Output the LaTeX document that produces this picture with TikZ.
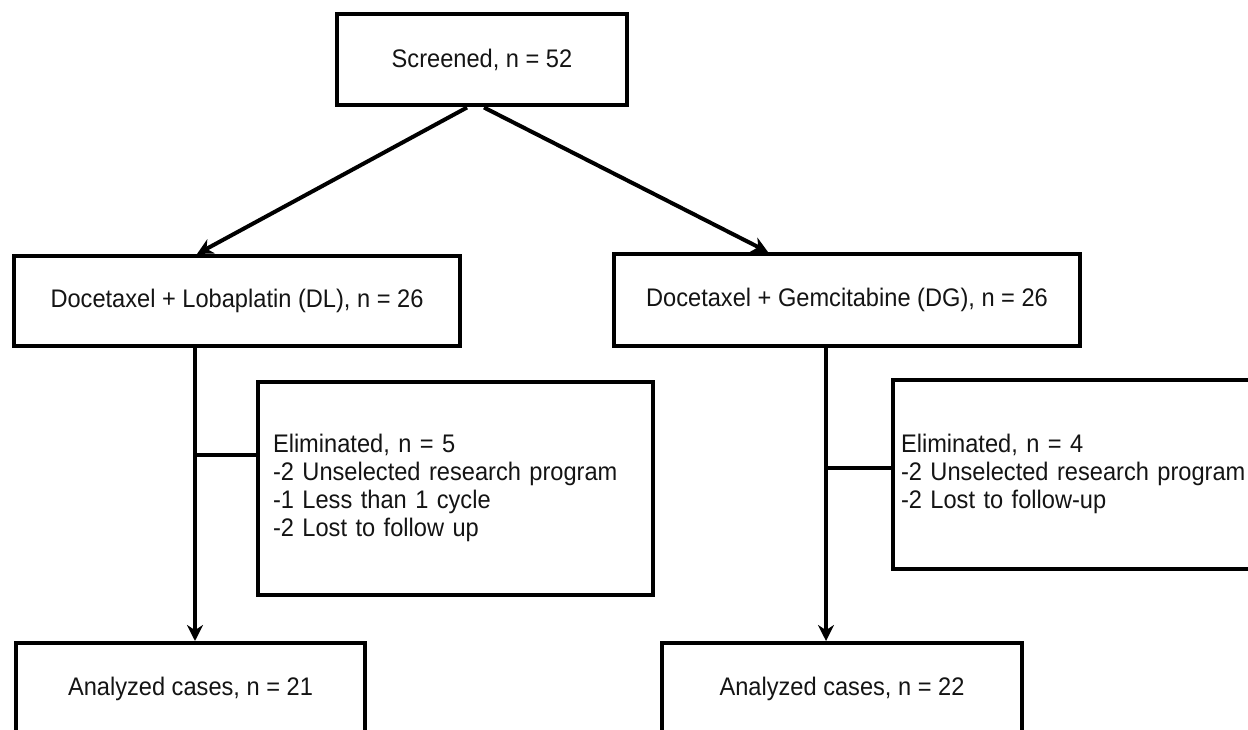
\documentclass[tikz,border=0pt]{standalone}
\usepackage{fontspec}
\setmainfont{Liberation Sans}[FakeStretch=0.93]
\usetikzlibrary{arrows.meta}
\newcommand{\itemlines}[1]{\begin{tabular}{@{}l@{}}#1\end{tabular}}
\begin{document}
\begin{tikzpicture}[x=1pt,y=-1pt,
  box/.style={draw=black, line width=4pt, fill=white, text=black!92,
    font=\fontsize{25.4}{28}\selectfont, inner sep=0pt},
  listbox/.style={box, align=left,
    execute at begin node={\renewcommand{\arraystretch}{1}\setlength{\tabcolsep}{0pt}}},
  link/.style={draw=black, line width=4pt},
  arr/.style={link, -{Stealth[length=16pt,width=16pt]}}]
\useasboundingbox (0,0) rectangle (1248,730);
\clip (0,0) rectangle (1248,730);
\fill[white] (0,0) rectangle (1248,730);

% boxes
\node[box, minimum width=290pt, minimum height=91pt] (scr) at (482,60) {Screened, n = 52};
\node[box, minimum width=446pt, minimum height=90pt] (dl) at (237,301) {Docetaxel + Lobaplatin (DL), n = 26};
\node[box, minimum width=466pt, minimum height=92pt] (dg) at (847,300) {Docetaxel + Gemcitabine (DG), n = 26};
\node[listbox, minimum width=395pt, minimum height=213pt, text width=365pt] (el1) at (455.5,488.5)
  {\itemlines{Eliminated, n = 5\\-2 Unselected research program\\-1 Less than 1 cycle\\-2 Lost to follow up}};
\node[listbox, minimum width=369pt, minimum height=189pt, text width=353pt] (el2) at (1077.5,474.5)
  {\itemlines{Eliminated, n = 4\\-2 Unselected research program\\-2 Lost to follow-up}};
\node[box, minimum width=349pt, minimum height=92pt] (an1) at (190.5,689) {Analyzed cases, n = 21};
\node[box, minimum width=360pt, minimum height=92pt] (an2) at (842,689) {Analyzed cases, n = 22};

% connectors
\draw[arr] ([xshift=-15pt]scr.south) -- (dl.north -| 197,0);
\draw[arr] ([xshift=2pt]scr.south) -- (dg.north -| 768,0);
\draw[arr] (dl.south -| 195,0) -- (an1.north -| 195,0);
\draw[arr] (dg.south -| 826,0) -- (an2.north -| 826,0);
\draw[link] (195,455) -- (el1.west |- 0,455);
\draw[link] (826,468) -- (el2.west |- 0,468);
\end{tikzpicture}
\end{document}
